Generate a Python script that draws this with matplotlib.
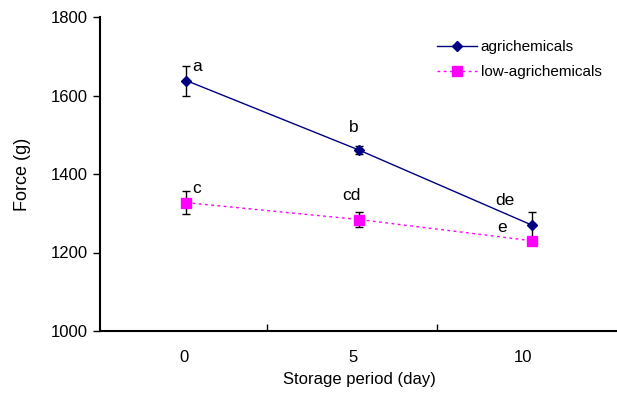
import matplotlib
matplotlib.use("Agg")
import matplotlib.pyplot as plt
import matplotlib.transforms as mtransforms
import numpy as np

plt.rcParams['font.family'] = ['Liberation Sans', 'DejaVu Sans']

categories = ["0", "5", "10"]
agri = [1638, 1461, 1270]
agri_err = [38, 10, 32]
low = [1327, 1284, 1230]
low_err = [30, 18, 8]
agri_letters = ["a", "b", "de"]
low_letters = ["c", "cd", "e"]

fig = plt.figure(figsize=(6.17, 3.94), dpi=100)
ax = fig.add_axes([100/617, 63/394, 518/617, 314/394])
x = np.arange(len(categories))

ax.errorbar(x, agri, yerr=agri_err, fmt='none', ecolor='black', elinewidth=1, capsize=3, capthick=1, zorder=2)
ax.errorbar(x, low, yerr=low_err, fmt='none', ecolor='black', elinewidth=1, capsize=3, capthick=1, zorder=2)
ax.plot(x, agri, color='#000080', lw=1, marker='D', ms=5.5, mfc='#000080', mec='#000080', label='agrichemicals', zorder=3)
ax.plot(x, low, color='#FF00FF', lw=1, ls=(0, (2, 2.5)), marker='s', ms=6.8, mfc='#FF00FF', mec='#FF00FF', label='low-agrichemicals', zorder=3)

agri_off = [(8, 10), (-3.6, 16), (-19.4, 17.3)]
low_off = [(7.2, 10), (-5.8, 17.3), (-21.6, 9.4)]
for i in range(len(x)):
    ax.annotate(agri_letters[i], (x[i], agri[i]), xytext=agri_off[i], textcoords='offset points',
                ha='center', va='center', fontsize=12.5)
    ax.annotate(low_letters[i], (x[i], low[i]), xytext=low_off[i], textcoords='offset points',
                ha='center', va='center', fontsize=12.5)

ax.set_xlim(-0.5, 2.5)
ax.set_ylim(1000, 1800)
ax.set_yticks([1000, 1200, 1400, 1600, 1800])
ax.set_xticks(x)
ax.set_xticklabels(categories)
ax.set_xticks([0.47, 1.45], minor=True)
ax.tick_params(axis='x', which='major', length=0, pad=14, labelsize=12)
ax.tick_params(axis='x', which='minor', direction='in', length=5, width=1)
ax.tick_params(axis='y', direction='out', length=5, width=1, labelsize=12, pad=4)
label_shift_px = [-2, -6, -9]
for lab, dx in zip(ax.get_xticklabels(), label_shift_px):
    lab.set_transform(lab.get_transform() + mtransforms.ScaledTranslation(dx/100, 0, fig.dpi_scale_trans))
for s in ['top', 'right']:
    ax.spines[s].set_visible(False)
for s in ['left', 'bottom']:
    ax.spines[s].set_linewidth(1.5)

ax.set_xlabel('Storage period (day)', fontsize=12, labelpad=5)
ax.set_ylabel('Force (g)', fontsize=13, labelpad=14)

ax.legend(loc='upper left', bbox_to_anchor=(337/518, 1 - 23/314), frameon=False, fontsize=11,
          handlelength=2.6, handletextpad=0.25, labelspacing=0.75, borderaxespad=0, borderpad=0)

fig.savefig('out.png', dpi=100)
